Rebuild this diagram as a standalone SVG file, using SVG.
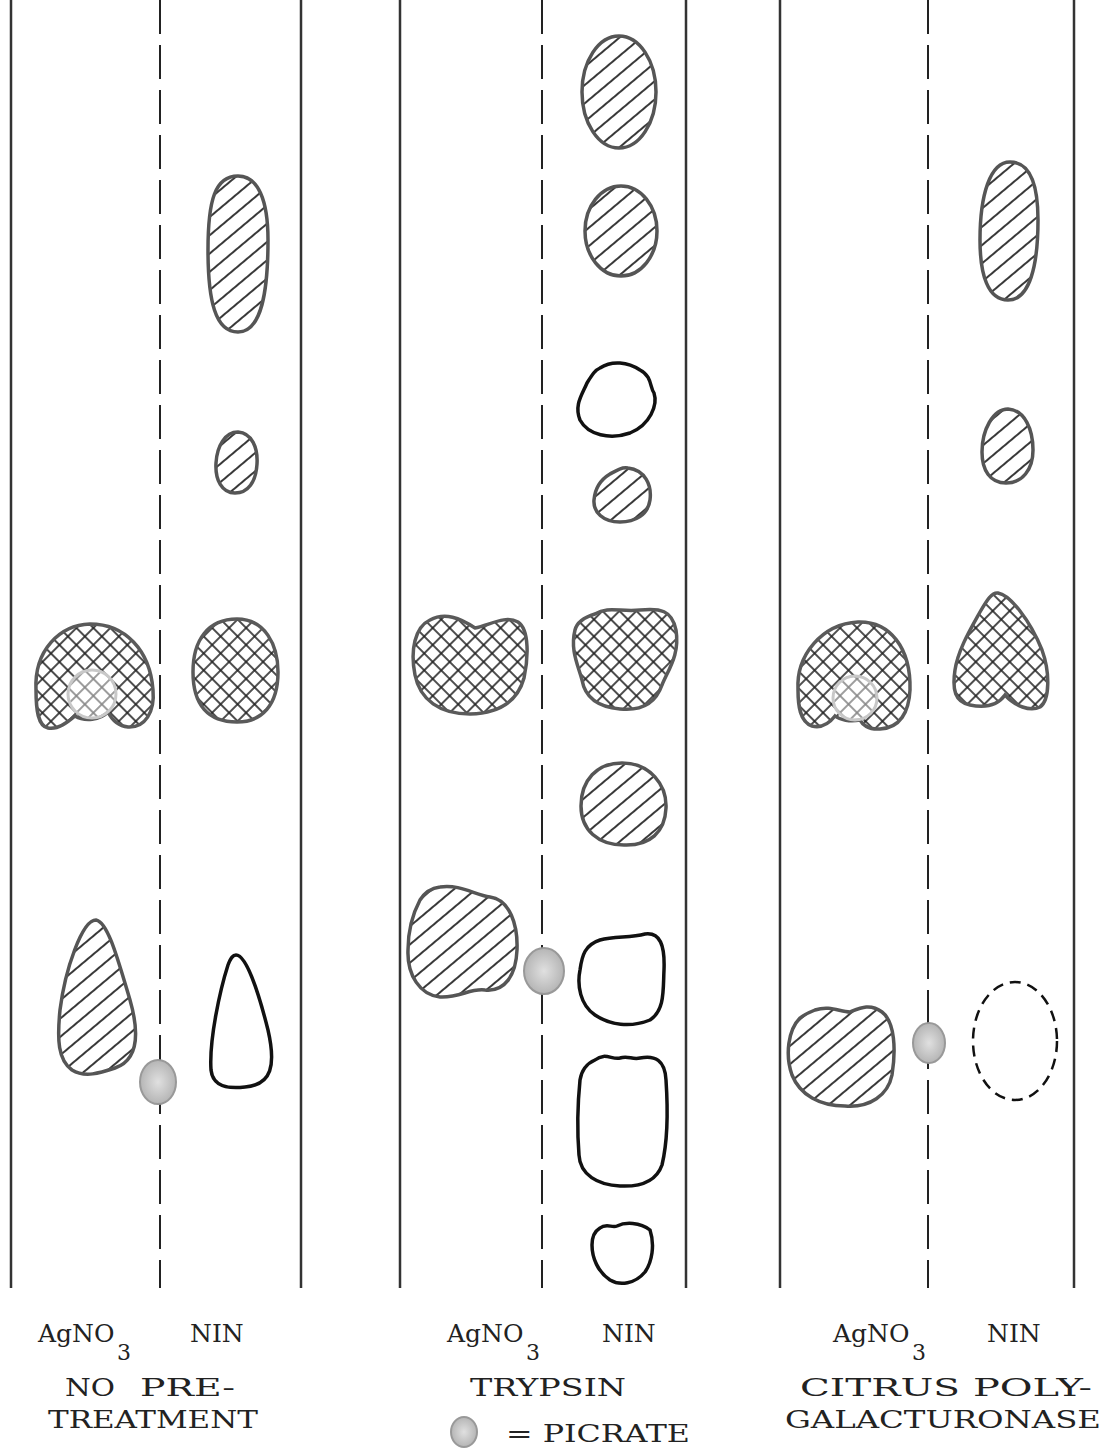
<svg xmlns="http://www.w3.org/2000/svg" width="1104" height="1450" viewBox="0 0 1104 1450">
<style>
.lane{stroke:#333;stroke-width:2.5;fill:none}
.mid{stroke:#222;stroke-width:2;fill:none;stroke-dasharray:34 11}
.hat{fill:url(#hatch);stroke:#555;stroke-width:3.5}
.xh{fill:url(#cross);stroke:#5a5a5a;stroke-width:3.5}
.open{fill:none;stroke:#111;stroke-width:3.5}
.dash{fill:none;stroke:#111;stroke-width:2.5;stroke-dasharray:11 7}
.pic{fill:url(#stip);stroke:#999;stroke-width:2}
.inner{fill:#fff;fill-opacity:0.45;stroke:#c8c8c8;stroke-width:3}
text{font-family:"DejaVu Serif","Liberation Serif",serif;font-size:25px;fill:#222}
.r1{font-size:25px}
.sub{font-size:22px}
</style>
<defs>
<pattern id="hatch" patternUnits="userSpaceOnUse" width="14" height="14" patternTransform="rotate(-40)">
<rect width="14" height="14" fill="#fff"/>
<line x1="0" y1="7" x2="14" y2="7" stroke="#222" stroke-width="1.8"/>
</pattern>
<pattern id="cross" patternUnits="userSpaceOnUse" width="12" height="12" patternTransform="rotate(45)">
<rect width="12" height="12" fill="#fff"/>
<line x1="0" y1="6" x2="12" y2="6" stroke="#222" stroke-width="1.6"/>
<line x1="6" y1="0" x2="6" y2="12" stroke="#222" stroke-width="1.6"/>
</pattern>
<radialGradient id="stip">
<stop offset="0" stop-color="#e0e0e0"/>
<stop offset="1" stop-color="#b5b5b5"/>
</radialGradient>
</defs>

<g id="lanes">
<line class="lane" x1="11" y1="0" x2="11" y2="1288"/>
<line class="mid" x1="160" y1="0" x2="160" y2="1288"/>
<line class="lane" x1="301" y1="0" x2="301" y2="1288"/>
<line class="lane" x1="400" y1="0" x2="400" y2="1288"/>
<line class="mid" x1="542" y1="0" x2="542" y2="1288"/>
<line class="lane" x1="686" y1="0" x2="686" y2="1288"/>
<line class="lane" x1="780" y1="0" x2="780" y2="1288"/>
<line class="mid" x1="928" y1="0" x2="928" y2="1288"/>
<line class="lane" x1="1074" y1="0" x2="1074" y2="1288"/>
</g>

<g id="panel1">
<path class="hat" d="M238,176 C258,176 268,200 268,240 C268,290 262,332 238,332 C215,332 208,300 208,250 C208,200 215,176 238,176 Z"/>
<path class="hat" d="M238,432 C252,433 258,448 257,464 C256,482 248,493 235,493 C222,493 215,480 216,463 C217,446 225,432 238,432 Z"/>
<path class="xh" d="M36,690 C34,650 60,625 90,624 C125,624 150,650 153,690 C155,712 145,728 128,727 C118,726 112,720 108,712 C100,720 85,722 75,716 C68,722 58,730 48,728 C38,726 36,710 36,690 Z"/>
<circle class="inner" cx="92" cy="694" r="24"/>
<path class="xh" d="M237,619 C265,619 278,645 278,672 C278,705 262,722 237,722 C208,722 193,705 193,672 C193,640 208,619 237,619 Z"/>
<path class="hat" d="M96,920 C108,922 118,960 130,1000 C140,1035 138,1060 115,1068 C100,1073 85,1078 72,1070 C58,1060 57,1040 60,1010 C65,970 82,920 96,920 Z"/>
<ellipse class="pic" cx="158" cy="1082" rx="18" ry="22"/>
<path class="open" d="M236,955 C246,955 258,990 268,1030 C276,1065 272,1085 245,1087 C228,1089 213,1087 211,1070 C209,1040 220,990 228,965 C231,957 233,955 236,955 Z"/>
</g>

<g id="panel2">
<ellipse class="hat" cx="619" cy="92" rx="37" ry="56"/>
<ellipse class="hat" cx="621" cy="231" rx="36" ry="45"/>
<path class="open" d="M600,368 C612,360 628,362 640,370 C652,376 650,388 654,393 C658,405 650,425 630,433 C610,440 588,435 580,420 C574,405 582,395 587,383 C592,375 595,370 600,368 Z"/>
<path class="hat" d="M628,468 C645,470 652,485 650,500 C648,515 635,522 620,522 C603,522 593,512 594,500 C595,488 600,480 610,474 C617,470 622,467 628,468 Z"/>
<path class="xh" d="M430,620 C445,612 460,618 475,628 C490,625 505,615 518,622 C530,630 528,660 524,678 C518,700 500,713 470,714 C440,714 420,700 415,675 C410,650 415,627 430,620 Z"/>
<path class="xh" d="M595,614 C608,606 620,612 640,610 C660,608 672,610 676,630 C680,655 668,670 662,685 C655,705 640,711 620,709 C598,707 585,697 582,680 C578,665 570,650 575,630 C577,622 585,617 595,614 Z"/>
<path class="hat" d="M622,763 C650,763 667,785 666,808 C665,832 650,846 624,845 C598,845 581,830 581,806 C581,780 597,763 622,763 Z"/>
<path class="hat" d="M440,887 C460,884 475,895 490,897 C510,900 518,925 517,950 C516,975 505,992 485,990 C470,988 460,998 440,997 C420,995 407,975 408,950 C408,930 412,915 420,900 C425,892 432,888 440,887 Z"/>
<ellipse class="pic" cx="544" cy="971" rx="20" ry="23"/>
<path class="open" d="M600,940 C615,936 630,938 645,934 C660,932 665,945 664,970 C663,990 665,1010 650,1020 C630,1028 610,1025 595,1015 C580,1005 577,985 580,970 C582,955 585,945 600,940 Z"/>
<path class="open" d="M595,1060 C605,1052 612,1060 620,1058 C628,1055 632,1060 640,1058 C655,1055 665,1060 666,1080 C668,1110 668,1140 662,1165 C656,1182 640,1187 620,1186 C598,1185 580,1175 579,1155 C577,1130 578,1100 580,1080 C582,1068 588,1063 595,1060 Z"/>
<path class="open" d="M600,1228 C606,1223 612,1228 617,1226 C625,1222 640,1222 650,1230 C655,1245 652,1262 645,1272 C635,1284 620,1286 610,1280 C598,1272 592,1258 592,1245 C592,1237 595,1231 600,1228 Z"/>
</g>

<g id="panel3">
<path class="hat" d="M1010,162 C1030,162 1038,185 1038,220 C1038,265 1030,300 1008,300 C988,300 980,275 980,240 C980,195 990,162 1010,162 Z"/>
<path class="hat" d="M1008,409 C1025,410 1033,430 1033,450 C1033,470 1022,483 1006,483 C990,483 982,470 982,452 C982,430 993,409 1008,409 Z"/>
<path class="xh" d="M798,690 C796,655 822,624 858,622 C890,621 911,648 910,690 C909,712 900,728 880,729 C868,730 862,724 860,720 C850,722 840,720 835,716 C828,725 820,728 812,726 C800,722 798,706 798,690 Z"/>
<circle class="inner" cx="855" cy="698" r="22"/>
<path class="xh" d="M998,593 C1010,595 1030,620 1042,650 C1050,672 1050,700 1040,707 C1030,712 1015,706 1005,695 C998,705 985,708 970,705 C955,702 952,690 955,670 C958,650 970,630 980,612 C987,600 992,592 998,593 Z"/>
<path class="hat" d="M815,1010 C830,1005 840,1012 850,1012 C860,1008 870,1003 882,1012 C895,1022 896,1050 892,1075 C888,1095 870,1108 845,1106 C820,1106 800,1095 792,1075 C785,1055 788,1030 800,1018 C805,1014 810,1012 815,1010 Z"/>
<ellipse class="pic" cx="929" cy="1043" rx="16" ry="20"/>
<ellipse class="dash" cx="1015" cy="1041" rx="42" ry="59"/>
</g>

<g id="labels">
<text class="r1" x="38" y="1342">AgNO</text>
<text class="sub" x="117" y="1360">3</text>
<text class="r1" x="190" y="1342">NIN</text>
<text x="65" y="1396" textLength="50" lengthAdjust="spacingAndGlyphs">NO</text>
<text x="140" y="1396" textLength="95" lengthAdjust="spacingAndGlyphs">PRE-</text>
<text x="48" y="1428" textLength="210" lengthAdjust="spacingAndGlyphs">TREATMENT</text>

<text class="r1" x="447" y="1342">AgNO</text>
<text class="sub" x="526" y="1360">3</text>
<text class="r1" x="602" y="1342">NIN</text>
<text x="470" y="1396" textLength="156" lengthAdjust="spacingAndGlyphs">TRYPSIN</text>
<ellipse class="pic" cx="464" cy="1432" rx="13" ry="15"/>
<text x="506" y="1442" textLength="184" lengthAdjust="spacingAndGlyphs">= PICRATE</text>

<text class="r1" x="833" y="1342">AgNO</text>
<text class="sub" x="912" y="1360">3</text>
<text class="r1" x="987" y="1342">NIN</text>
<text x="800" y="1396" textLength="160" lengthAdjust="spacingAndGlyphs">CITRUS</text>
<text x="973" y="1396" textLength="119" lengthAdjust="spacingAndGlyphs">POLY-</text>
<text x="785" y="1428" textLength="316" lengthAdjust="spacingAndGlyphs">GALACTURONASE</text>
</g>
</svg>
